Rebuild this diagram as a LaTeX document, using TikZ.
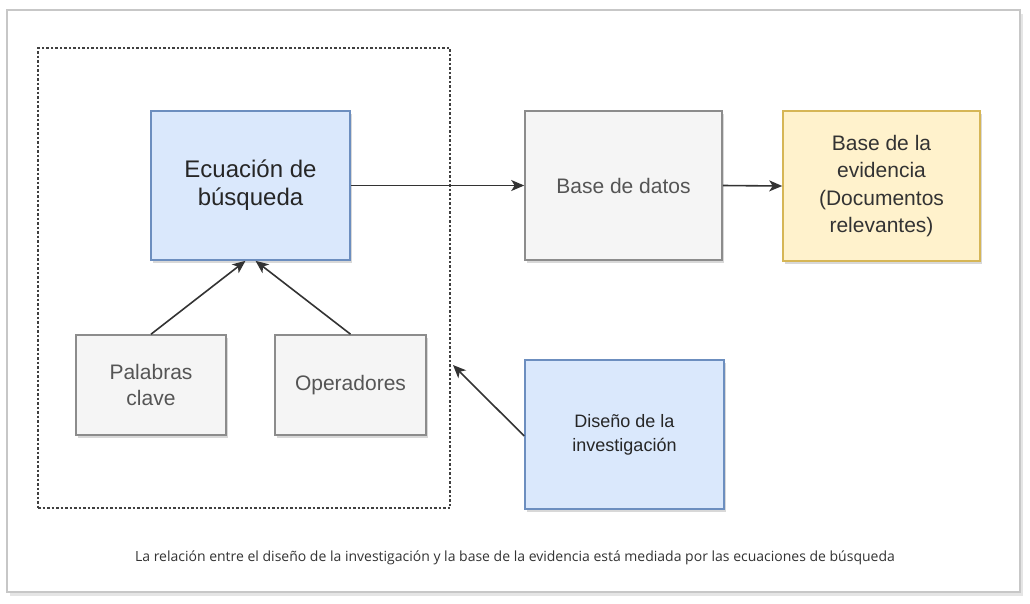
\documentclass[tikz,border=0pt]{standalone}
\usepackage{fontspec}
\setmainfont{Liberation Sans}
\newfontfamily\capfont{Open Sans}
\usetikzlibrary{arrows.meta,shadows}
\definecolor{bluefill}{HTML}{DAE8FC}
\definecolor{bluedraw}{HTML}{6C8EBF}
\definecolor{grayfill}{HTML}{F5F5F5}
\definecolor{graydraw}{HTML}{8C8C8C}
\definecolor{yellowfill}{HTML}{FFF2CC}
\definecolor{yellowdraw}{HTML}{D6B656}
\definecolor{linecol}{HTML}{333333}
\definecolor{graytext}{HTML}{555555}
\tikzset{
  box/.style={draw, line width=1.6pt, align=center, inner sep=0pt,
    drop shadow={shadow xshift=2pt, shadow yshift=-3pt, opacity=0.3}},
  bluebox/.style={box, fill=bluefill, draw=bluedraw},
  graybox/.style={box, fill=grayfill, draw=graydraw, text=graytext,
    font=\fontsize{21}{26}\selectfont},
  yellowbox/.style={box, fill=yellowfill, draw=yellowdraw, text=linecol,
    font=\fontsize{21}{27.5}\selectfont},
  conn/.style={draw=linecol, line width=1.6pt, -{Stealth[length=13pt,width=11pt,inset=3.5pt]}}
}
\begin{document}
\begin{tikzpicture}[x=1pt,y=-1pt]
\useasboundingbox (0,0) rectangle (1030,603);
\fill[white] (0,0) rectangle (1030,603);
% outer frame
\node[draw=black!22, fill=white, line width=1.5pt, minimum width=1013pt, minimum height=582pt,
  drop shadow={shadow xshift=3pt, shadow yshift=-4pt, opacity=0.2}, inner sep=0pt]
  (frame) at (513.5,301) {};
% dashed group
\node[draw=black!75, dash pattern=on 2.5pt off 2pt, line width=1.4pt,
  minimum width=412pt, minimum height=460pt, inner sep=0pt] (group) at (244,278) {};
% boxes
\node[bluebox, text=black!85, font=\fontsize{24}{28}\selectfont,
  minimum width=199pt, minimum height=149pt] (ecu) at (250.5,185.5) {Ecuación de\\búsqueda};
\node[graybox, minimum width=150pt, minimum height=100pt] (pal) at (151,385) {Palabras\\clave};
\node[graybox, minimum width=151pt, minimum height=100pt] (ope) at (350.5,385) {Operadores};
\node[graybox, minimum width=197pt, minimum height=149pt] (bd) at (623.5,185.5) {Base de datos};
\node[yellowbox, minimum width=197pt, minimum height=150pt] (ev) at (881.5,186) {Base de la\\evidencia\\(Documentos\\relevantes)};
\node[bluebox, text=black!85, font=\fontsize{18}{24}\selectfont,
  minimum width=199pt, minimum height=149pt] (dis) at (624.5,434.5) {Diseño de la\\investigación};
% connectors
\draw[conn] (ecu.east) -- (bd.west);
\draw[conn] (bd.east) -- (ev.west);
\draw[conn] (pal.north) -- ([xshift=-5pt]ecu.south);
\draw[conn] (ope.north) -- ([xshift=5pt]ecu.south);
\coordinate (tip) at (453,365);
\draw[conn] ([yshift=-1.5pt]dis.west) -- (tip);
% caption
\node[text=black!80, font=\capfont\fontsize{14}{17}\selectfont, inner sep=0pt] (cap) at (515,558)
  {La relación entre el diseño de la investigación y la base de la evidencia está mediada por las ecuaciones de búsqueda};
\end{tikzpicture}
\end{document}
